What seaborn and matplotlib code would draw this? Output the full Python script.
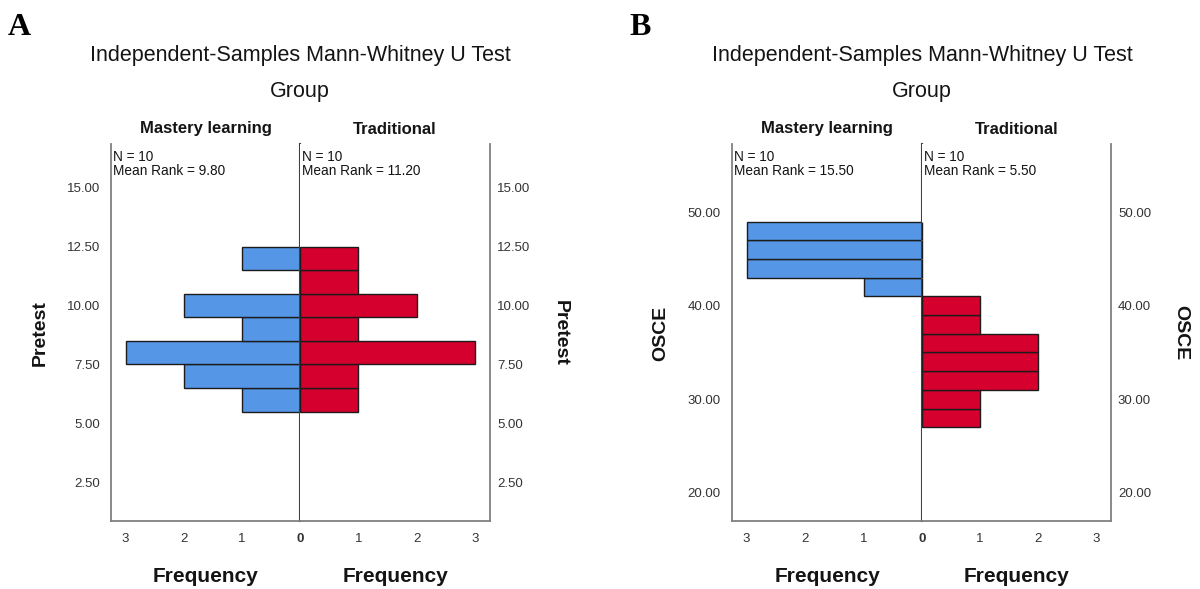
import numpy as np
import matplotlib
matplotlib.use("Agg")
import matplotlib.pyplot as plt
import seaborn as sns

# Panel A - Pretest (bins of width 1)
pre_edges = [5.5, 6.5, 7.5, 8.5, 9.5, 10.5, 11.5, 12.5]
pre_centers = [6, 7, 8, 9, 10, 11, 12]
pre_mastery = [1, 2, 3, 1, 2, 0, 1]
pre_traditional = [1, 1, 3, 1, 2, 1, 1]
pre_ticks = [2.5, 5.0, 7.5, 10.0, 12.5, 15.0]
pre_stats = ["N = 10\nMean Rank = 9.80", "N = 10\nMean Rank = 11.20"]

# Panel B - OSCE (bins of width 2)
osce_edges = [27, 29, 31, 33, 35, 37, 39, 41, 43, 45, 47, 49]
osce_centers = [28, 30, 32, 34, 36, 38, 40, 42, 44, 46, 48]
osce_mastery = [0, 0, 0, 0, 0, 0, 0, 1, 3, 3, 3]
osce_traditional = [1, 1, 2, 2, 2, 1, 1, 0, 0, 0, 0]
osce_ticks = [20.0, 30.0, 40.0, 50.0]
osce_stats = ["N = 10\nMean Rank = 15.50", "N = 10\nMean Rank = 5.50"]

groups = ["Mastery learning", "Traditional"]
freq_ticks = [0, 1, 2, 3]

sns.set_style("white")
plt.rcParams['font.family'] = ['Liberation Sans', 'DejaVu Sans']

BLUE = "#5597E6"
RED = "#D5002D"
EDGE = "#1c1c1c"
OUTER = "#808080"
CENTER = "#404040"
TXT = "#333333"
DARK = "#141414"

W, H = 1200, 589
fig = plt.figure(figsize=(12, 5.89), dpi=100)


def px(x, y):
    return x / W, 1 - y / H


def draw_panel(letter, x_left, x_mid, x_right, edges, centers, mastery, traditional,
               ticks, ylim, stats, ylab):
    bottom = 1 - 521 / H
    height = (521 - 144) / H
    axl = fig.add_axes([x_left / W, bottom, (x_mid - x_left) / W, height])
    axr = fig.add_axes([x_mid / W, bottom, (x_right - x_mid) / W, height], sharey=axl)

    sns.histplot(y=centers, weights=mastery, bins=edges, ax=axl, color=BLUE,
                 edgecolor=EDGE, linewidth=1.0, alpha=1)
    sns.histplot(y=centers, weights=traditional, bins=edges, ax=axr, color=RED,
                 edgecolor=EDGE, linewidth=1.0, alpha=1)

    axl.set_xlim(3.25, 0)
    axr.set_xlim(0, 3.25)
    axl.set_ylim(*ylim)

    for ax in (axl, axr):
        ax.set_xlabel("")
        ax.set_ylabel("")
        ax.tick_params(length=0, labelsize=9.5, labelcolor=TXT)
        ax.spines['top'].set_visible(False)
        ax.spines['bottom'].set_color(OUTER)
        ax.spines['bottom'].set_linewidth(1.3)

    axl.spines['left'].set_color(OUTER)
    axl.spines['left'].set_linewidth(1.3)
    axl.spines['right'].set_color(CENTER)
    axl.spines['right'].set_linewidth(1.5)
    axl.spines['right'].set_zorder(5)
    axr.spines['left'].set_visible(False)
    axr.spines['right'].set_color(OUTER)
    axr.spines['right'].set_linewidth(1.3)

    axl.set_yticks(ticks)
    axl.set_yticklabels([f"{t:.2f}" for t in ticks])
    axl.tick_params(axis='y', pad=8)
    axr.yaxis.tick_right()
    axr.tick_params(axis='y', which='both', labelleft=False, labelright=True, pad=5)
    axr.set_yticks(ticks)
    axr.set_yticklabels([f"{t:.2f}" for t in ticks])

    axl.set_xticks(freq_ticks)
    axl.set_xticklabels([str(t) for t in freq_ticks])
    axl.get_xticklabels()[0].set_fontweight('bold')
    axr.set_xticks(freq_ticks[1:])
    axr.set_xticklabels([str(t) for t in freq_ticks[1:]])
    axl.tick_params(axis='x', pad=9)
    axr.tick_params(axis='x', pad=9)

    axl.text(0.012, 0.985, stats[0], transform=axl.transAxes, ha='left', va='top',
             fontsize=9.8, linespacing=1.0, color=DARK)
    axr.text(0.012, 0.985, stats[1], transform=axr.transAxes, ha='left', va='top',
             fontsize=9.8, linespacing=1.0, color=DARK)

    cl = (x_left + x_mid) / 2
    cr = (x_mid + x_right) / 2
    fig.text(*px(x_left - 103, 35), letter, family=['Liberation Serif'], fontweight='bold',
             fontsize=23, ha='left', va='baseline', color='black')
    fig.text(*px(x_mid, 55), "Independent-Samples Mann-Whitney U Test", fontsize=15.5,
             ha='center', va='center', color=DARK)
    fig.text(*px(x_mid, 92), "Group", fontsize=15.5, ha='center', va='center', color=DARK)
    fig.text(*px(cl, 129), groups[0], fontsize=12, fontweight='bold', ha='center', va='center',
             color=DARK)
    fig.text(*px(cr, 129), groups[1], fontsize=12, fontweight='bold', ha='center', va='center',
             color=DARK)
    fig.text(*px(cl, 576), "Frequency", fontsize=15, fontweight='bold', ha='center',
             va='center', color=DARK)
    fig.text(*px(cr, 576), "Frequency", fontsize=15, fontweight='bold', ha='center',
             va='center', color=DARK)
    fig.text(*px(x_left - 71, 333), ylab, fontsize=14, fontweight='bold', rotation=90,
             ha='center', va='center', color=DARK)
    fig.text(*px(x_right + 70, 333), ylab, fontsize=14, fontweight='bold', rotation=270,
             ha='center', va='center', color=DARK)


draw_panel("A", 111, 300, 490, pre_edges, pre_centers, pre_mastery, pre_traditional,
           pre_ticks, (0.85, 16.86), pre_stats, "Pretest")
draw_panel("B", 732, 922, 1111, osce_edges, osce_centers, osce_mastery, osce_traditional,
           osce_ticks, (16.97, 57.3), osce_stats, "OSCE")

fig.savefig("out.png", dpi=100)
